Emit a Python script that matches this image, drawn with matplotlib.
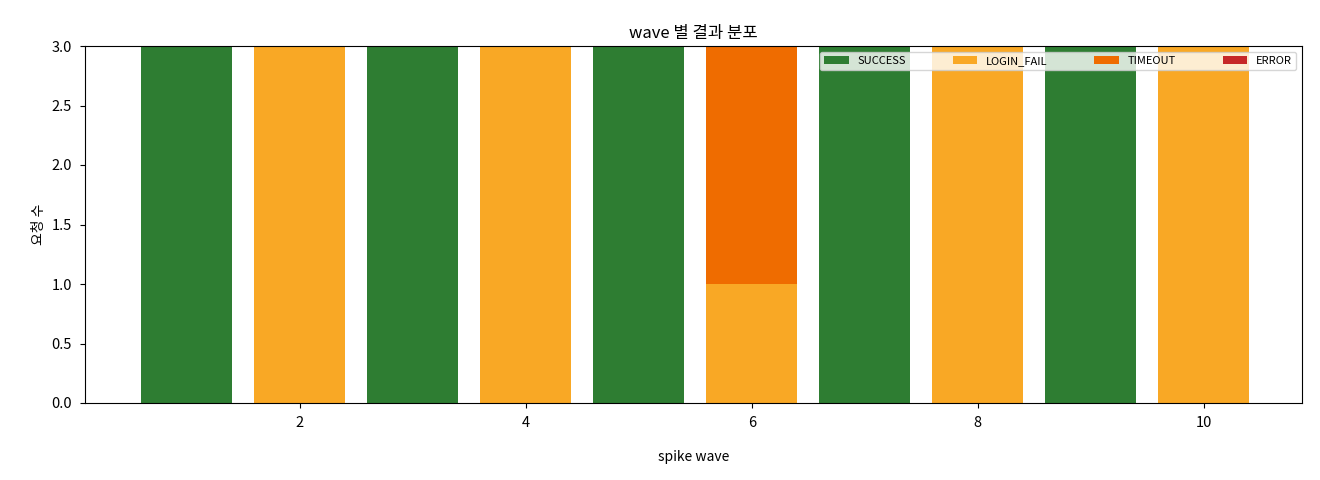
import matplotlib
matplotlib.use("Agg")
import matplotlib.pyplot as plt
import numpy as np

plt.rcParams['font.family'] = ['Noto Sans CJK KR', 'DejaVu Sans']

waves = [1, 2, 3, 4, 5, 6, 7, 8, 9, 10]
success = [3, 0, 3, 0, 3, 0, 3, 0, 3, 0]
login_fail = [0, 3, 0, 3, 0, 1, 0, 3, 0, 3]
timeout = [0, 0, 0, 0, 0, 2, 0, 0, 0, 0]
error = [0, 0, 0, 0, 0, 0, 0, 0, 0, 0]

series = [("SUCCESS", success, "#2e7d32"), ("LOGIN_FAIL", login_fail, "#f9a825"),
          ("TIMEOUT", timeout, "#ef6c00"), ("ERROR", error, "#c62828")]

fig = plt.figure(figsize=(13.2, 4.8), dpi=100)
ax = fig.add_axes([85/1320, 1-403/480, (1302-85)/1320, (403-46)/480])
bottom = np.zeros(len(waves))
for name, vals, c in series:
    ax.bar(waves, vals, 0.8, bottom=bottom, color=c, label=name)
    bottom += np.array(vals)
ax.set_xlim(0.1, 10.87)
ax.set_ylim(0, 3)
ax.set_xticks([2, 4, 6, 8, 10])
ax.set_title("wave 별 결과 분포", fontsize=12)
ax.set_xlabel("spike wave", fontsize=10, labelpad=14)
ax.set_ylabel("요청 수", fontsize=10)
ax.tick_params(labelsize=10.5, pad=6)
ax.legend(ncol=4, loc="upper right", fontsize=8, columnspacing=4.2, handlelength=2.2)
fig.savefig("out.png", dpi=100)
